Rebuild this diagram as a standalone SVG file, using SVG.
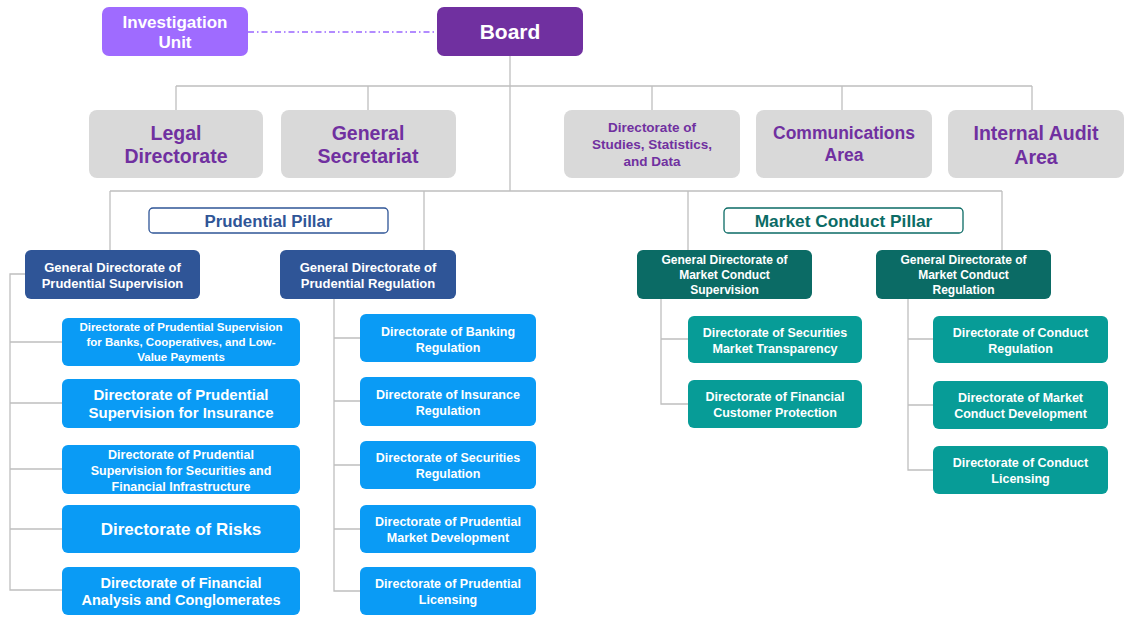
<svg xmlns="http://www.w3.org/2000/svg" width="1127" height="619" viewBox="0 0 1127 619">
<style>
text{font-family:"Liberation Sans",Arial,sans-serif;font-weight:bold;text-anchor:middle}
.w{fill:#fff}
.p{fill:#7030A0}
.ln{fill:none;stroke:#BFBFBF;stroke-width:1.3}
.gray{fill:#D9D9D9}
.gdp{fill:#2F5597}
.blu{fill:#0A9BF5}
.gdt{fill:#0B6B65}
.tea{fill:#079C97}
</style>
<rect width="1127" height="619" fill="#fff"/>
<g id="connectors">
<path class="ln" d="M510 56V191M176 86H1032M176 86V110M368 86V110M652 86V110M842 86V110M1032 86V110"/>
<path class="ln" d="M110 191H1002M110 191V250M424 191V250M688 191V250M1002 191V250"/>
<path class="ln" d="M25 274H10V590H62M10 342H62M10 403H62M10 469H62M10 529H62"/>
<path class="ln" d="M334 299V591H360M334 338H360M334 401H360M334 465H360M334 529H360"/>
<path class="ln" d="M661 299V404H688M661 339H688"/>
<path class="ln" d="M908 299V470H933M908 339H933M908 405H933"/>
<path fill="none" stroke="#9966FF" stroke-width="1.3" stroke-dasharray="6 3 1.5 3" d="M248 32H437"/>
</g>
<g id="board"><rect x="437" y="7" width="146" height="49" rx="7" fill="#7030A0"/><text class="w" x="510" y="39" font-size="21">Board</text></g>
<g id="investigation"><rect x="102" y="7" width="146" height="49" rx="7" fill="#9F6BFF"/><text class="w" x="175" y="28" font-size="17">Investigation</text><text class="w" x="175" y="48" font-size="17">Unit</text></g>
<g id="legal"><rect class="gray" x="89" y="110" width="174" height="68" rx="8"/><text class="p" x="176" y="140" font-size="19.5">Legal</text><text class="p" x="176" y="163" font-size="19.5">Directorate</text></g>
<g id="secretariat"><rect class="gray" x="281" y="110" width="175" height="68" rx="8"/><text class="p" x="368" y="140" font-size="19.5">General</text><text class="p" x="368" y="163" font-size="19.5">Secretariat</text></g>
<g id="studies"><rect class="gray" x="564" y="110" width="176" height="68" rx="8"/><text class="p" x="652" y="132" font-size="13.5">Directorate of</text><text class="p" x="652" y="149" font-size="13.5">Studies, Statistics,</text><text class="p" x="652" y="166" font-size="13.5">and Data</text></g>
<g id="communications"><rect class="gray" x="756" y="110" width="176" height="68" rx="8"/><text class="p" x="844" y="139" font-size="17.5">Communications</text><text class="p" x="844" y="161" font-size="17.5">Area</text></g>
<g id="audit"><rect class="gray" x="948" y="110" width="176" height="68" rx="8"/><text class="p" x="1036" y="140" font-size="19.5">Internal Audit</text><text class="p" x="1036" y="164" font-size="19.5">Area</text></g>
<g id="prudential-pillar"><rect x="149" y="208" width="239" height="25" rx="4" fill="#fff" stroke="#2F5597" stroke-width="1.3"/><text x="268.5" y="226.5" font-size="16.8" fill="#2F5597">Prudential Pillar</text></g>
<g id="conduct-pillar"><rect x="724" y="208" width="239" height="25" rx="4" fill="#fff" stroke="#0B6B65" stroke-width="1.3"/><text x="843.5" y="226.5" font-size="17.3" fill="#0B6B65">Market Conduct Pillar</text></g>
<g id="gd-prud-sup"><rect class="gdp" x="25" y="250" width="175" height="49" rx="6"/><text class="w" x="112.5" y="271.5" font-size="13">General Directorate of</text><text class="w" x="112.5" y="287.5" font-size="13">Prudential Supervision</text></g>
<g id="gd-prud-reg"><rect class="gdp" x="280" y="250" width="176" height="49" rx="6"/><text class="w" x="368" y="271.5" font-size="13">General Directorate of</text><text class="w" x="368" y="287.5" font-size="13">Prudential Regulation</text></g>
<g id="gd-mc-sup"><rect class="gdt" x="637" y="250" width="175" height="49" rx="6"/><text class="w" x="724.5" y="264" font-size="12">General Directorate of</text><text class="w" x="724.5" y="279" font-size="12">Market Conduct</text><text class="w" x="724.5" y="294" font-size="12">Supervision</text></g>
<g id="gd-mc-reg"><rect class="gdt" x="876" y="250" width="175" height="49" rx="6"/><text class="w" x="963.5" y="264" font-size="12">General Directorate of</text><text class="w" x="963.5" y="279" font-size="12">Market Conduct</text><text class="w" x="963.5" y="294" font-size="12">Regulation</text></g>
<g id="sup-banks"><rect class="blu" x="62" y="318" width="238" height="48" rx="6"/><text class="w" x="181" y="331" font-size="11.5">Directorate of Prudential Supervision</text><text class="w" x="181" y="346" font-size="11.5">for Banks, Cooperatives, and Low-</text><text class="w" x="181" y="361" font-size="11.5">Value Payments</text></g>
<g id="sup-insurance"><rect class="blu" x="62" y="379" width="238" height="49" rx="6"/><text class="w" x="181" y="400" font-size="15">Directorate of Prudential</text><text class="w" x="181" y="418" font-size="15">Supervision for Insurance</text></g>
<g id="sup-securities"><rect class="blu" x="62" y="445" width="238" height="49" rx="6"/><text class="w" x="181" y="458.5" font-size="12.5">Directorate of Prudential</text><text class="w" x="181" y="474.5" font-size="12.5">Supervision for Securities and</text><text class="w" x="181" y="490.5" font-size="12.5">Financial Infrastructure</text></g>
<g id="risks"><rect class="blu" x="62" y="505" width="238" height="48" rx="6"/><text class="w" x="181" y="535" font-size="17">Directorate of Risks</text></g>
<g id="financial-analysis"><rect class="blu" x="62" y="567" width="238" height="48" rx="6"/><text class="w" x="181" y="588" font-size="14.5">Directorate of Financial</text><text class="w" x="181" y="605" font-size="14.5">Analysis and Conglomerates</text></g>
<g id="reg-banking"><rect class="blu" x="360" y="314" width="176" height="48" rx="6"/><text class="w" x="448" y="335.5" font-size="12.5">Directorate of Banking</text><text class="w" x="448" y="351.5" font-size="12.5">Regulation</text></g>
<g id="reg-insurance"><rect class="blu" x="360" y="377" width="176" height="49" rx="6"/><text class="w" x="448" y="398.5" font-size="12.5">Directorate of Insurance</text><text class="w" x="448" y="414.5" font-size="12.5">Regulation</text></g>
<g id="reg-securities"><rect class="blu" x="360" y="441" width="176" height="48" rx="6"/><text class="w" x="448" y="462" font-size="12.5">Directorate of Securities</text><text class="w" x="448" y="478" font-size="12.5">Regulation</text></g>
<g id="reg-market-dev"><rect class="blu" x="360" y="505" width="176" height="48" rx="6"/><text class="w" x="448" y="525.5" font-size="12.5">Directorate of Prudential</text><text class="w" x="448" y="541.5" font-size="12.5">Market Development</text></g>
<g id="reg-licensing"><rect class="blu" x="360" y="567" width="176" height="48" rx="6"/><text class="w" x="448" y="588" font-size="12.5">Directorate of Prudential</text><text class="w" x="448" y="604" font-size="12.5">Licensing</text></g>
<g id="mc-transparency"><rect class="tea" x="688" y="316" width="174" height="47" rx="6"/><text class="w" x="775" y="336.5" font-size="12.5">Directorate of Securities</text><text class="w" x="775" y="352.5" font-size="12.5">Market Transparency</text></g>
<g id="mc-protection"><rect class="tea" x="688" y="380" width="174" height="48" rx="6"/><text class="w" x="775" y="400.5" font-size="12.5">Directorate of Financial</text><text class="w" x="775" y="416.5" font-size="12.5">Customer Protection</text></g>
<g id="mc-regulation"><rect class="tea" x="933" y="316" width="175" height="47" rx="6"/><text class="w" x="1020.5" y="336.5" font-size="12.5">Directorate of Conduct</text><text class="w" x="1020.5" y="352.5" font-size="12.5">Regulation</text></g>
<g id="mc-development"><rect class="tea" x="933" y="381" width="175" height="48" rx="6"/><text class="w" x="1020.5" y="401.5" font-size="12.5">Directorate of Market</text><text class="w" x="1020.5" y="417.5" font-size="12.5">Conduct Development</text></g>
<g id="mc-licensing"><rect class="tea" x="933" y="446" width="175" height="48" rx="6"/><text class="w" x="1020.5" y="467" font-size="12.5">Directorate of Conduct</text><text class="w" x="1020.5" y="483" font-size="12.5">Licensing</text></g>
</svg>
